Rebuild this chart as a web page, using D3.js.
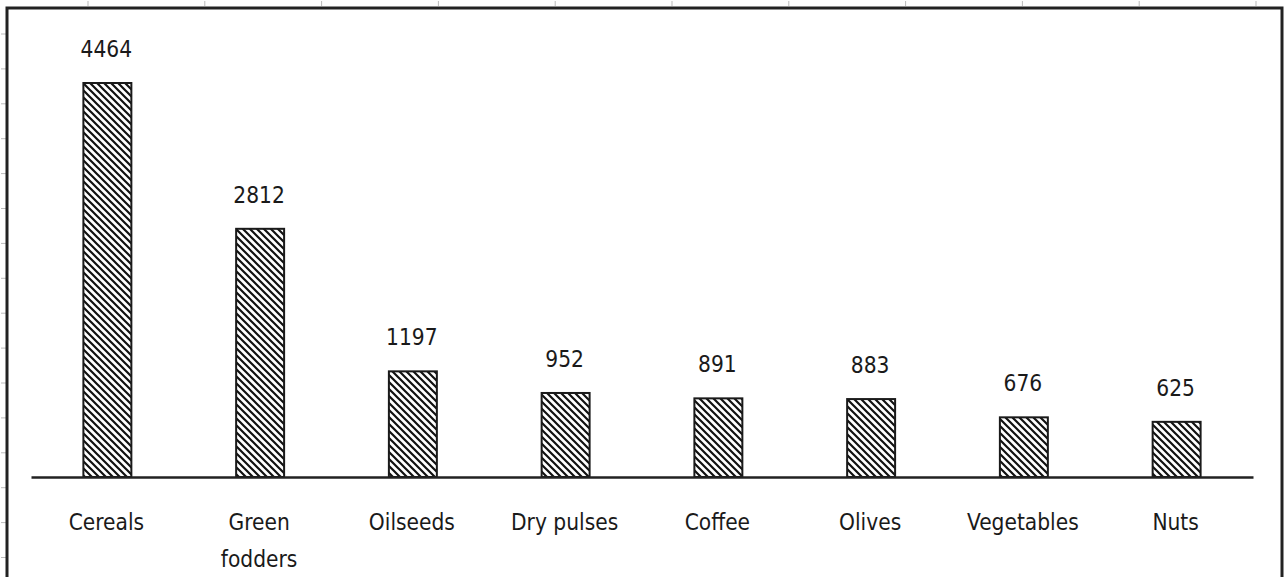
<!DOCTYPE html>
<html>
<head>
<meta charset="utf-8">
<script src="https://cdn.jsdelivr.net/npm/d3@7/dist/d3.min.js"></script>
<style>
  html, body { margin: 0; padding: 0; background: #fff; }
  svg { display: block; }
</style>
</head>
<body>
<script>
const categories = ["Cereals", "Green fodders", "Oilseeds", "Dry pulses", "Coffee", "Olives", "Vegetables", "Nuts"];
const values = [4464, 2812, 1197, 952, 891, 883, 676, 625];
const labelLines = [["Cereals"], ["Green", "fodders"], ["Oilseeds"], ["Dry pulses"], ["Coffee"], ["Olives"], ["Vegetables"], ["Nuts"]];

const W = 1284, H = 577;
const FONT = "'DejaVu Sans Condensed', 'DejaVu Sans', sans-serif";
const svg = d3.select("body").append("svg").attr("width", W).attr("height", H);

const defs = svg.append("defs");
const pat = defs.append("pattern").attr("id", "hatch")
  .attr("patternUnits", "userSpaceOnUse").attr("width", 7).attr("height", 7);
pat.append("rect").attr("width", 7).attr("height", 7).attr("fill", "#fff");
pat.append("path").attr("d", "M0,0 L7,7 M-2,5 L2,9 M5,-2 L9,2")
  .attr("stroke", "#111").attr("stroke-width", 2.2);

// faint ruler marks outside frame
const topTicks = d3.range(88, 1284, 116.8);
svg.selectAll(".tt").data(topTicks).enter().append("line")
  .attr("x1", d => d).attr("x2", d => d).attr("y1", 1).attr("y2", 6)
  .attr("stroke", "#bbb").attr("stroke-width", 1);
const leftTicks = d3.range(34, 577, 34.9);
svg.selectAll(".lt").data(leftTicks).enter().append("line")
  .attr("y1", d => d).attr("y2", d => d).attr("x1", 1).attr("x2", 6)
  .attr("stroke", "#bbb").attr("stroke-width", 1);

// frame
svg.append("path").attr("d", `M7,${H + 5} L7,8 L1282,8 L1282,${H + 5}`)
  .attr("fill", "none").attr("stroke", "#222").attr("stroke-width", 3);

const x = d3.scaleBand().domain(categories).range([31, 1253])
  .paddingInner(0.686).paddingOuter(0.343);
const y = d3.scaleLinear().domain([0, 5000]).range([477, 35.7]);

const g = svg.append("g");
g.selectAll("rect.bar").data(values).enter().append("rect")
  .attr("class", "bar")
  .attr("x", (d, i) => x(categories[i]))
  .attr("y", d => y(d))
  .attr("width", x.bandwidth())
  .attr("height", d => y(0) - y(d))
  .attr("fill", "url(#hatch)")
  .attr("stroke", "#1a1a1a").attr("stroke-width", 2);

// axis baseline
const xAxis = d3.axisBottom(x).tickSize(0).tickFormat("");
const ax = svg.append("g").attr("transform", `translate(0,${y(0)})`).call(xAxis);
ax.select(".domain").attr("stroke", "#222").attr("stroke-width", 2.5);

// value labels
g.selectAll("text.val").data(values).enter().append("text")
  .attr("x", (d, i) => x(categories[i]) + x.bandwidth() / 2 - 1)
  .attr("y", d => y(d) - 26)
  .attr("text-anchor", "middle")
  .attr("font-family", FONT).attr("font-size", 22.5).attr("fill", "#1a1a1a")
  .text(d => d);

// category labels
categories.forEach((c, i) => {
  const t = svg.append("text")
    .attr("x", x(c) + x.bandwidth() / 2 - 1)
    .attr("y", 530)
    .attr("text-anchor", "middle")
    .attr("font-family", FONT).attr("font-size", 22.5).attr("fill", "#1a1a1a");
  labelLines[i].forEach((ln, k) => {
    t.append("tspan").attr("x", x(c) + x.bandwidth() / 2 - 1)
      .attr("dy", k === 0 ? 0 : 37).text(ln);
  });
});
</script>
</body>
</html>
